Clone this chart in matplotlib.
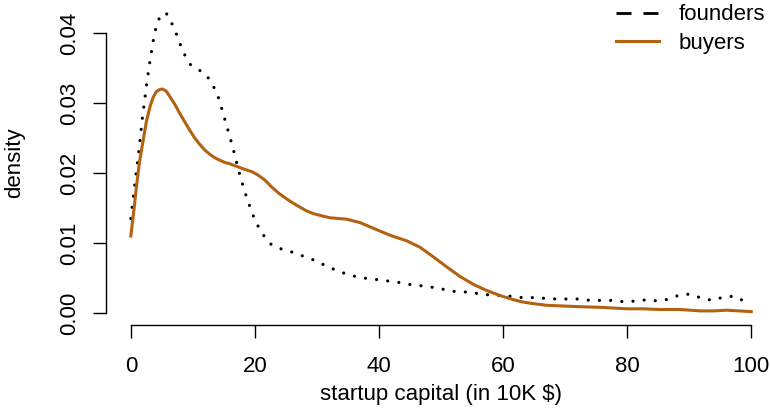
import matplotlib
matplotlib.use("Agg")
import matplotlib.pyplot as plt
from matplotlib.lines import Line2D

plt.rcParams['font.family'] = ['Liberation Sans', 'DejaVu Sans']
plt.rcParams['font.size'] = 16

# density estimates of startup capital (in 10K $)
founders_x = [0, 0.65, 1.3, 1.9, 2.6, 3.1, 3.7, 4.1, 4.5, 4.8, 5.2, 5.5, 5.8, 6.1, 6.5,
              6.9, 7.6, 8.2, 9.0, 9.6, 10.2, 11.0, 11.8, 12.4, 12.9, 13.8, 14.4, 15.4,
              16.4, 17.3, 18.3, 19.5, 20.2, 21.1, 22.1, 22.9, 23.7, 24.5, 25.4, 27.2,
              28.9, 30.6, 32.3, 34.0, 35.8, 37.5, 39.4, 41.2, 43.0, 44.8, 46.7, 48.4,
              50.3, 52.1, 53.9, 55.8, 57.6, 61.2, 63.1, 64.9, 66.7, 68.5, 70.3, 72.2,
              74.0, 75.9, 77.7, 79.5, 81.3, 83.2, 85.0, 86.8, 88.5, 90.3, 92.0, 93.8,
              95.6, 97.4, 99.0, 100]
founders_y = [0.0135, 0.0184, 0.0232, 0.0281, 0.0330, 0.0361, 0.0393, 0.0410, 0.0419,
              0.0425, 0.0428, 0.0429, 0.0427, 0.0423, 0.0416, 0.0408, 0.0393, 0.0378,
              0.0363, 0.0355, 0.0351, 0.0347, 0.0343, 0.0337, 0.0330, 0.0316, 0.0300,
              0.0269, 0.0238, 0.0206, 0.0175, 0.0144, 0.0129, 0.0115, 0.0102, 0.0096,
              0.0093, 0.0091, 0.0089, 0.0083, 0.0078, 0.0071, 0.0064, 0.0058, 0.0053,
              0.0050, 0.0048, 0.0046, 0.0044, 0.0041, 0.0039, 0.0037, 0.0034, 0.0031,
              0.0030, 0.0028, 0.0026, 0.0024, 0.0022, 0.0022, 0.0021, 0.0020, 0.0020,
              0.0020, 0.0018, 0.0018, 0.0018, 0.0016, 0.0017, 0.0019, 0.0017, 0.0020,
              0.0026, 0.0027, 0.0021, 0.0018, 0.0023, 0.0024, 0.0016, 0.0014]

buyers_x = [0, 0.5, 0.9, 1.4, 2.0, 2.5, 3.1, 3.6, 4.1, 4.6, 5.1, 5.7, 6.3, 7.1, 7.9,
            8.7, 9.5, 10.3, 11.1, 11.9, 12.7, 13.5, 14.4, 15.2, 16.0, 17.2, 18.4, 19.5,
            20.5, 21.6, 22.7, 24.0, 25.6, 27.3, 28.3, 29.4, 30.7, 32.1, 33.5, 34.8,
            37.0, 39.1, 41.8, 44.5, 46.6, 47.7, 48.8, 50.9, 53.1, 55.2, 57.4, 59.5,
            61.7, 63.0, 64.4, 67.0, 69.7, 72.4, 76.0, 79.9, 82.5, 85.3, 88.5, 91.8,
            94.0, 96.0, 98.0, 100]
buyers_y = [0.0110, 0.0147, 0.0180, 0.0216, 0.0247, 0.0273, 0.0295, 0.0308, 0.0316,
            0.0319, 0.0320, 0.0317, 0.0309, 0.0298, 0.0285, 0.0273, 0.0261, 0.0250,
            0.0241, 0.0233, 0.0227, 0.0222, 0.0218, 0.0215, 0.0213, 0.0209, 0.0205,
            0.0202, 0.0197, 0.0190, 0.0180, 0.0170, 0.0160, 0.0151, 0.0146, 0.0142,
            0.0139, 0.0136, 0.0135, 0.0134, 0.0129, 0.0121, 0.0111, 0.0103, 0.0094,
            0.0087, 0.0080, 0.0066, 0.0052, 0.0041, 0.0032, 0.0025, 0.0019, 0.0016,
            0.0014, 0.0011, 0.0010, 0.0009, 0.0008, 0.0006, 0.0006, 0.0005, 0.0005,
            0.0003, 0.0003, 0.0004, 0.0003, 0.0002]

xticks = [0, 20, 40, 60, 80, 100]
yticks = [0.00, 0.01, 0.02, 0.03, 0.04]
orange = '#b3620f'

W, H = 770, 408
fig = plt.figure(figsize=(W / 100, H / 100), dpi=100)
# plot region in pixels: left 106, right 776, top 1, bottom 325
ax = fig.add_axes([106 / W, 1 - 325 / H, 670 / W, 324 / H])

ax.plot(founders_x, founders_y, color='black', lw=2.3,
        linestyle=(0, (0.01, 3.5)), dash_capstyle='round', solid_joinstyle='round')
ax.plot(buyers_x, buyers_y, color=orange, lw=2.2, solid_joinstyle='round')

ax.set_xlim(-4, 104)
ax.set_ylim(-0.001714, 0.04457)

for s in ['top', 'right']:
    ax.spines[s].set_visible(False)
ax.spines['left'].set_bounds(0, 0.04)
ax.spines['bottom'].set_bounds(0, 100)
for s in ['left', 'bottom']:
    ax.spines[s].set_linewidth(1.0)

ax.set_xticks(xticks)
ax.set_xticklabels([str(t) for t in xticks])
ax.set_yticks(yticks)
ax.set_yticklabels(['%.2f' % t for t in yticks], rotation=90, va='center')
ax.tick_params(direction='out', length=9.4, width=1.0, labelsize=16)
ax.tick_params(axis='x', pad=13)
ax.tick_params(axis='y', pad=9)

ax.set_xlabel('startup capital (in 10K $)', fontsize=16, labelpad=5)
ax.set_ylabel('density', fontsize=16, labelpad=25)

handles = [Line2D([], [], color='black', lw=2.0, linestyle=(0, (5.4, 4.3))),
           Line2D([], [], color=orange, lw=2.2)]
ax.legend(handles, ['founders', 'buyers'], loc='upper left',
          bbox_to_anchor=(616 / W, 1 - 4.5 / H), bbox_transform=fig.transFigure,
          frameon=False, borderpad=0, borderaxespad=0, handlelength=1.95,
          handletextpad=0.85, labelspacing=0.35, fontsize=16)

fig.savefig('out.png', dpi=100)
